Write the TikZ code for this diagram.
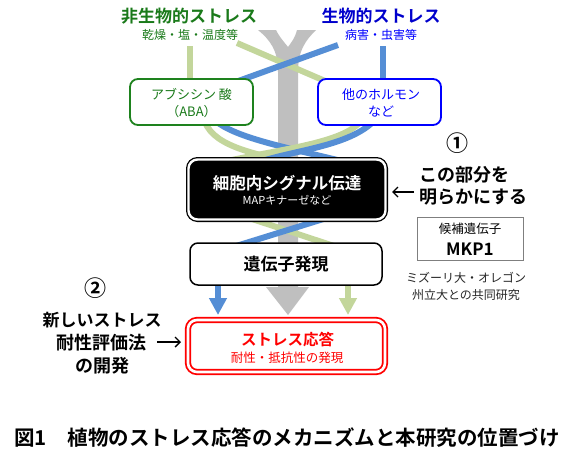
\documentclass[tikz,border=0pt]{standalone}
\usepackage{fontspec}
\setmainfont{Noto Sans CJK JP}[BoldFont={Noto Sans CJK JP Bold}]
\usetikzlibrary{arrows.meta}
\definecolor{agreen}{RGB}{26,122,26}
\definecolor{boxgreen}{RGB}{30,130,30}
\definecolor{lgreen}{RGB}{195,214,155}
\definecolor{lblue}{RGB}{85,142,213}
\definecolor{tblue}{RGB}{0,0,204}
\definecolor{boxblue}{RGB}{0,0,255}
\definecolor{ygray}{RGB}{191,191,191}
\definecolor{cgray}{RGB}{127,127,127}
\newcommand\jfs[1]{\fontsize{#1}{#1}\selectfont}
\pgfdeclarelayer{back}
\pgfdeclarelayer{lines}
\pgfsetlayers{back,lines,main}
\begin{document}
\begin{tikzpicture}[x=1pt,y=-1pt,
  txt/.style={inner sep=0pt, outer sep=0pt},
  gline/.style={draw=lgreen, line width=6pt},
  bline/.style={draw=lblue, line width=6pt},
  hbox/.style={draw, rounded corners=8pt, fill=white, line width=1.8pt, inner sep=0pt},
  note/.style={draw=black, line width=1.4pt, -{Straight Barb[length=5pt,width=10pt]}},
  tipc/.style={-{Triangle[width=17pt,length=17pt]}}
]
\useasboundingbox (0,0) rectangle (580,455);

% ---- boxes ----
\node[hbox, draw=boxgreen, minimum width=123pt, minimum height=46pt] (aba) at (191.5,102) {};
\node[hbox, draw=boxblue, minimum width=123pt, minimum height=46pt] (oth) at (379.5,102) {};
\node[draw=black, fill=black, rounded corners=9pt, line width=1.3pt, double=white, double distance=2.4pt,
      minimum width=197pt, minimum height=60pt, inner sep=0pt] (sig) at (287,189.5) {};
\node[hbox, draw=black, line width=1.5pt, minimum width=192pt, minimum height=42pt] (gene) at (286,264) {};
\node[draw=red, fill=white, rounded corners=9pt, line width=1.8pt, double=white, double distance=2.6pt,
      minimum width=197pt, minimum height=52pt, inner sep=0pt] (resp) at (286.5,346) {};
\node[draw=cgray, line width=0.8pt, fill=white, minimum width=106pt, minimum height=43pt, inner sep=0pt] (cand) at (470,238.5) {};

% ---- texts ----
\node[txt, font=\jfs{17}\bfseries, text=agreen] (abiot) at (189,16) {非生物的ストレス};
\node[txt, font=\jfs{12}, text=agreen] (abios) at (190,35) {乾燥・塩・温度等};
\node[txt, font=\jfs{17}\bfseries, text=tblue] (biot) at (381,16) {生物的ストレス};
\node[txt, font=\jfs{12}, text=boxblue] (bios) at (381,35) {病害・虫害等};

\node[txt, font=\jfs{13}, text=agreen] (abat1) at (191.5,94.5) {アブシシン 酸};
\node[txt, font=\jfs{13}, text=agreen] (abat2) at (191.5,112) {（ABA）};
\node[txt, font=\jfs{13}, text=boxblue] (otht1) at (381,94.5) {他のホルモン};
\node[txt, font=\jfs{13}, text=boxblue] (otht2) at (381,112) {など};

\node[txt, font=\jfs{16.5}\bfseries, text=white] (sigt1) at (287,183) {細胞内シグナル伝達};
\node[txt, font=\jfs{11}, text=white] (sigt2) at (287,200) {MAPキナーゼなど};
\node[txt, font=\jfs{17}\bfseries] (genet) at (286,264.5) {遺伝子発現};
\node[txt, font=\jfs{15.5}\bfseries, text=red] (respt1) at (287.5,340) {ストレス応答};
\node[txt, font=\jfs{12.5}, text=red] (respt2) at (287,358) {耐性・抵抗性の発現};

\node[txt, font=\jfs{22}\bfseries] (one) at (457,143) {①};
\node[txt, font=\jfs{18}\bfseries, anchor=west] (n1a) at (419,175) {この部分を};
\node[txt, font=\jfs{18}\bfseries, anchor=west] (n1b) at (419,197) {明らかにする};
\node[txt, font=\jfs{12.5}] (candt1) at (470,229) {候補遺伝子};
\node[txt, font=\jfs{17}\bfseries] (candt2) at (470,249) {MKP1};
\node[txt, font=\jfs{12}, text=black!85] (collab1) at (466,278) {ミズーリ大・オレゴン};
\node[txt, font=\jfs{12}, text=black!85] (collab2) at (466,295) {州立大との共同研究};

\node[txt, font=\jfs{22}\bfseries] (two) at (95,288) {②};
\node[txt, font=\jfs{17}\bfseries] (n2a) at (102,320) {新しいストレス};
\node[txt, font=\jfs{18}\bfseries] (n2b) at (101,343) {耐性評価法};
\node[txt, font=\jfs{18}\bfseries] (n2c) at (102,366) {の開発};

\node[txt, font=\jfs{20.5}\bfseries] (cap) at (287,438) {図1　植物のストレス応答のメカニズムと本研究の位置づけ};

% ---- note arrows ----
\coordinate (a1s) at (414,192);
\coordinate (a1e) at (392,192);
\coordinate (a2s) at (157,342);
\coordinate (a2e) at (181,342);
\draw[note] (a1s) -- (a1e);
\draw[note] (a2s) -- (a2e);

% ---- gray trunk ----
\begin{pgfonlayer}{back}
\fill[white] (0,0) rectangle (580,455);
\fill[ygray] (258,30) -- (276,30) .. controls (280,38) and (285,43) .. (288,47)
  .. controls (291,43) and (295,38) .. (297,30) -- (316,30)
  .. controls (306,40) and (298,50) .. (298,72) -- (298,287) -- (309,287) -- (288,315)
  -- (266,287) -- (278,287) -- (278,72) .. controls (278,50) and (270,40) .. (258,30) -- cycle;
\end{pgfonlayer}

% ---- flow lines ----
\begin{pgfonlayer}{lines}
\coordinate (ag1) at (190,46);
\coordinate (ag2) at (237,43);
\coordinate (ag2e) at (332,84);
\coordinate (bb1) at (383,46);
\coordinate (bb2) at (338,45);
\coordinate (bb2e) at (230,84);
\draw[gline] (ag1) -- (ag1 |- aba.north);
\draw[gline] (ag2) -- (ag2e);
\draw[bline] (bb1) -- (bb1 |- oth.north);
\draw[bline] (bb2) -- (bb2e);

\coordinate (abag) at (205,122);
\coordinate (abab) at (217,122);
\coordinate (othg) at (360,122);
\coordinate (othb) at (373,122);
\draw[gline] (abag) .. controls (215,148) and (260,155) .. (305,165);
\draw[bline] (abab) .. controls (240,140) and (300,150) .. (357,165);
\draw[gline] (othg) .. controls (340,145) and (270,150) .. (210,165);
\draw[bline] (othb) .. controls (345,148) and (290,150) .. (250,165);

\coordinate (sg) at (243,216);
\coordinate (sb) at (333,216);
\draw[gline] (sg) -- (337,247);
\draw[bline] (sb) -- (233,247);

\coordinate (gb) at (218,283);
\coordinate (gg) at (348,283);
\draw[bline, tipc, draw=lblue, fill=lblue] (gb) -- (218,315);
\draw[gline, tipc, draw=lgreen, fill=lgreen] (gg) -- (348,315);
\end{pgfonlayer}
\end{tikzpicture}
\end{document}
